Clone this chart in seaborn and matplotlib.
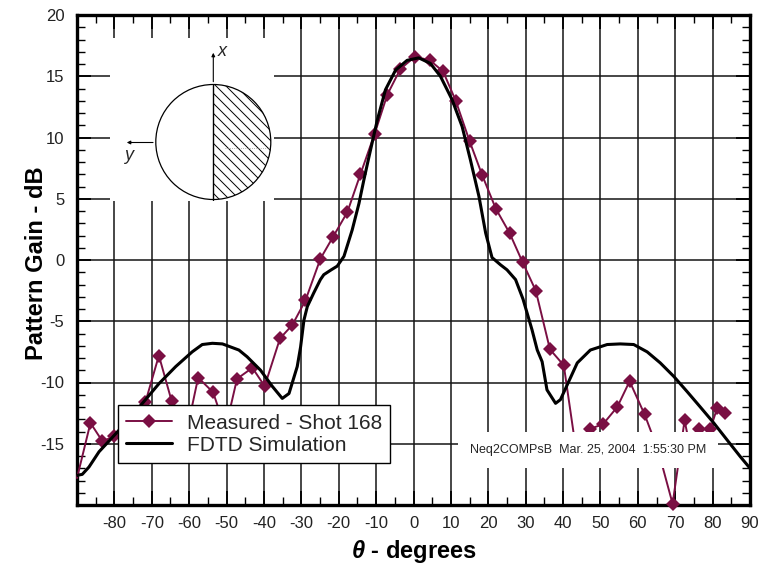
import matplotlib
matplotlib.use('Agg')
import matplotlib.pyplot as plt
import numpy as np
import seaborn as sns
from matplotlib import font_manager
from matplotlib.patches import Circle, Wedge
from matplotlib.ticker import MultipleLocator

# measured pattern (Shot 168)
meas_deg = [-90.0, -86.4, -83.2, -80.1, -75.9, -71.7, -68.1, -64.7, -61.0, -57.6,
            -53.6, -50.3, -47.2, -43.1, -39.8, -35.7, -32.4, -28.9, -24.9, -21.5,
            -17.7, -14.2, -10.4, -7.0, -3.5, 0.4, 4.4, 7.9, 11.3, 15.0,
            18.4, 22.0, 25.7, 29.2, 32.7, 36.5, 40.2, 43.8, 47.1, 50.7,
            54.5, 57.8, 61.8, 65.4, 69.3, 72.5, 74.5, 76.3, 79.4, 81.2, 83.4]
meas_db = [-17.8, -13.3, -14.8, -14.4, -14.0, -11.6, -7.8, -11.5, -14.5, -9.6,
           -10.8, -13.8, -9.7, -8.8, -10.3, -6.4, -5.3, -3.3, 0.1, 1.9,
           3.9, 7.0, 10.3, 13.5, 15.6, 16.6, 16.3, 15.4, 13.0, 9.7,
           6.9, 4.2, 2.2, -0.2, -2.5, -7.3, -8.6, -16.2, -13.8, -13.4,
           -12.0, -9.9, -12.6, -15.5, -19.9, -13.1, -16.1, -13.8, -13.8, -12.1, -12.5]

# FDTD simulation curve
fdtd_deg = [-90.0, -89.5, -88.6, -86.8, -84.1, -81.5, -77.0, -72.5, -68.1, -63.6,
            -59.2, -56.5, -53.8, -51.1, -46.7, -44.5, -40.9, -37.8, -35.1, -33.3,
            -31.1, -30.2, -29.3, -28.4, -26.7, -24.9, -24.0, -22.0, -20.4, -18.6,
            -16.4, -14.6, -13.3, -12.0, -9.7, -7.5, -4.8, -1.7, 1.4, 4.5,
            7.2, 10.3, 13.0, 15.2, 17.5, 19.3, 21.0, 23.3, 25.0, 27.3,
            29.3, 31.7, 33.1, 34.4, 35.7, 38.0, 39.3, 41.1, 43.8, 47.3,
            51.8, 55.3, 58.9, 62.5, 66.0, 69.6, 73.2, 76.7, 80.3, 83.9, 87.4, 90.0]
fdtd_db = [-17.6, -17.55, -17.5, -16.9, -15.65, -14.8, -13.3, -11.7, -10.1, -8.7,
           -7.5, -6.9, -6.8, -6.85, -7.35, -7.9, -9.0, -10.3, -11.3, -10.9,
           -8.7, -7.1, -4.9, -3.8, -2.7, -1.6, -1.2, -0.8, -0.5, 0.3,
           2.45, 4.6, 6.5, 8.3, 11.4, 13.9, 15.5, 16.3, 16.5, 16.05,
           15.0, 13.1, 10.9, 8.2, 5.2, 2.2, 0.2, -0.4, -0.8, -1.6,
           -3.2, -5.7, -7.35, -8.3, -10.6, -11.7, -11.4, -10.2, -8.4, -7.35,
           -6.9, -6.85, -6.9, -7.5, -8.4, -9.5, -10.75, -12.0, -13.3, -14.7, -16.05, -17.0]

x_ticks = list(range(-80, 91, 10))
y_ticks = list(range(-15, 21, 5))
series_labels = ['Measured - Shot 168', 'FDTD Simulation']
stamp = 'Neq2COMPsB  Mar. 25, 2004  1:55:30 PM'

maroon = '#7a0f43'

sns.set_theme(style='white')
plt.rcParams['font.family'] = ['Liberation Sans', 'DejaVu Sans']
plt.rcParams['axes.unicode_minus'] = False
plt.rcParams['mathtext.fontset'] = 'custom'
plt.rcParams['mathtext.bfit'] = 'Liberation Sans:italic:bold'

names = {f.name for f in font_manager.fontManager.ttflist}
tick_font = 'Liberation Sans Narrow' if 'Liberation Sans Narrow' in names else 'Liberation Sans'
tick_size = 13.5 if tick_font == 'Liberation Sans Narrow' else 12

fig = plt.figure(figsize=(7.61, 5.69), dpi=100)
ax = fig.add_axes([77 / 761, 64 / 569, 673 / 761, 490 / 569])

sns.lineplot(x=meas_deg, y=meas_db, ax=ax, color=maroon, lw=1.4, marker='D',
             markersize=7, markeredgewidth=0, markevery=list(range(1, len(meas_deg))),
             label=series_labels[0], zorder=3, clip_on=False, sort=False)
sns.lineplot(x=fdtd_deg, y=fdtd_db, ax=ax, color='black', lw=2.2,
             label=series_labels[1], zorder=5, sort=False)

ax.set_xlim(-90, 90)
ax.set_ylim(-20, 20)
ax.set_xticks(x_ticks)
ax.set_xticklabels([str(t) for t in x_ticks])
ax.set_yticks(y_ticks)
ax.set_yticklabels([str(t) for t in y_ticks])
ax.xaxis.set_minor_locator(MultipleLocator(5))
ax.yaxis.set_minor_locator(MultipleLocator(1))

ax.grid(True, which='major', color='#151515', lw=1.1)
ax.set_axisbelow(True)
for s in ax.spines.values():
    s.set_visible(True)
    s.set_color('black')
    s.set_linewidth(2.4)

ax.tick_params(which='both', direction='in', top=True, right=True,
               bottom=True, left=True, color='black')
ax.tick_params(which='major', length=10, width=1.3)
ax.tick_params(which='minor', length=6, width=1.0)
ax.tick_params(axis='x', pad=8)
ax.tick_params(axis='y', pad=9)
for lab in ax.get_xticklabels() + ax.get_yticklabels():
    lab.set_fontfamily(tick_font)
    lab.set_fontsize(tick_size)
    lab.set_color('#222222')

ax.set_ylabel('Pattern Gain - dB', fontsize=17, fontweight='bold', color='black')
ax.yaxis.set_label_coords(-0.043, 0.494)
ax.set_xlabel(r'$\mathbfit{\theta}$ - degrees', fontsize=17, fontweight='bold', color='black')
ax.xaxis.set_label_coords(0.5, -0.068)

# file / date stamp with white box over the grid
ax.text(15.0, -15.5, stamp, fontsize=9, ha='left', va='center', zorder=4,
        bbox=dict(boxstyle='square,pad=0.95', facecolor='white', edgecolor='none'))

h, l = ax.get_legend_handles_labels()
leg = ax.legend(h, l, loc='lower left', bbox_to_anchor=(0.0609, 0.0857), borderaxespad=0,
                fontsize=15, frameon=True, fancybox=False, framealpha=1, edgecolor='black',
                handlelength=2.2, handletextpad=0.7, borderpad=0.4, labelspacing=0.15,
                numpoints=1)
leg.get_frame().set_linewidth(1.0)
leg.set_zorder(10)

# inset sketch of the half-covered aperture (pixel units)
ins = fig.add_axes([110 / 761, 1 - 201 / 569, 164 / 761, 163 / 569])
ins.set_xlim(110, 274)
ins.set_ylim(201, 38)
ins.set_facecolor('white')
for s in ins.spines.values():
    s.set_visible(False)
ins.set_xticks([])
ins.set_yticks([])

cx, cy, r = 213.3, 142.0, 57.5
half = Wedge((cx, cy), r, -90, 90, facecolor='none', edgecolor='none')
ins.add_patch(half)
for c in np.arange(-190, 60, 10):
    xs = np.array([cx - 5, cx + r + 5])
    ln, = ins.plot(xs, xs + c, color='black', lw=0.7)
    ln.set_clip_path(half)
ins.add_patch(Circle((cx, cy), r, fill=False, edgecolor='black', lw=0.9))
ins.plot([cx, cx], [cy - r, cy + r], color='black', lw=1.0)
ins.plot([cx + 12, cx + r - 3], [cy + 6, cy + 6], color='#999999', lw=0.6, ls=':')
ins.annotate('', xy=(cx, 50), xytext=(cx, cy - r),
             arrowprops=dict(arrowstyle='-|>', lw=0.8, color='black', mutation_scale=5))
ins.annotate('', xy=(124, 142.5), xytext=(cx - r, 142.5),
             arrowprops=dict(arrowstyle='-|>', lw=0.8, color='black', mutation_scale=5))
ins.text(cx + 4, 51, 'x', fontsize=13, style='italic', ha='left', va='center')
ins.text(129, 156, 'y', fontsize=13, style='italic', ha='center', va='center')

fig.savefig('out.png', dpi=100)
